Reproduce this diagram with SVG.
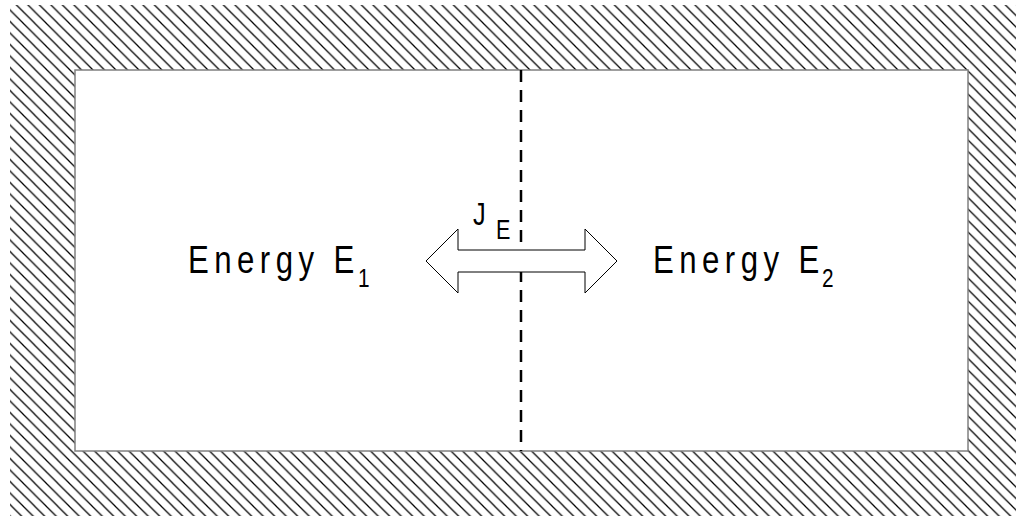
<svg xmlns="http://www.w3.org/2000/svg" width="1016" height="516" viewBox="0 0 1016 516">
  <defs>
    <pattern id="hatch" patternUnits="userSpaceOnUse" width="11.5" height="11.5">
      <path d="M-1,-1 L12.5,12.5 M-1,10.5 L1,12.5 M10.5,-1 L12.5,1" stroke="#000" stroke-width="1.25" fill="none"/>
    </pattern>
    <style>
      .lbl { font-family: "Liberation Sans", Arial, sans-serif; fill: #000; }
    </style>
  </defs>
  <rect width="1016" height="516" fill="#fff"/>
  <g id="wall">
    <rect x="10" y="5" width="1006" height="511" fill="url(#hatch)"/>
    <rect x="75" y="70" width="893" height="381" fill="#fff" stroke="#808080" stroke-width="1.5"/>
  </g>
  <g id="connectors">
    <line x1="521" y1="70" x2="521" y2="451" stroke="#000" stroke-width="2.5" stroke-dasharray="12 8"/>
    <polygon points="426,261 458,229 458,250 585,250 585,229 617,261 585,293 585,272 458,272 458,293" fill="#fff" stroke="#000" stroke-width="1"/>
  </g>
  <g id="flux-label">
    <text class="lbl" font-size="31" transform="translate(473,225) scale(0.82,1)">J</text>
    <text class="lbl" font-size="27" transform="translate(496,239) scale(0.8,1)">E</text>
  </g>
  <g id="node-left">
    <text class="lbl" font-size="39" letter-spacing="6.8" transform="translate(188,273) scale(0.8,1)"><tspan>Energy </tspan><tspan letter-spacing="0">E</tspan></text>
    <text class="lbl" font-size="26" transform="translate(358,287) scale(0.8,1)">1</text>
  </g>
  <g id="node-right">
    <text class="lbl" font-size="39" letter-spacing="6.8" transform="translate(653,273) scale(0.8,1)"><tspan>Energy </tspan><tspan letter-spacing="0">E</tspan></text>
    <text class="lbl" font-size="26" transform="translate(822,287) scale(0.8,1)">2</text>
  </g>
</svg>
